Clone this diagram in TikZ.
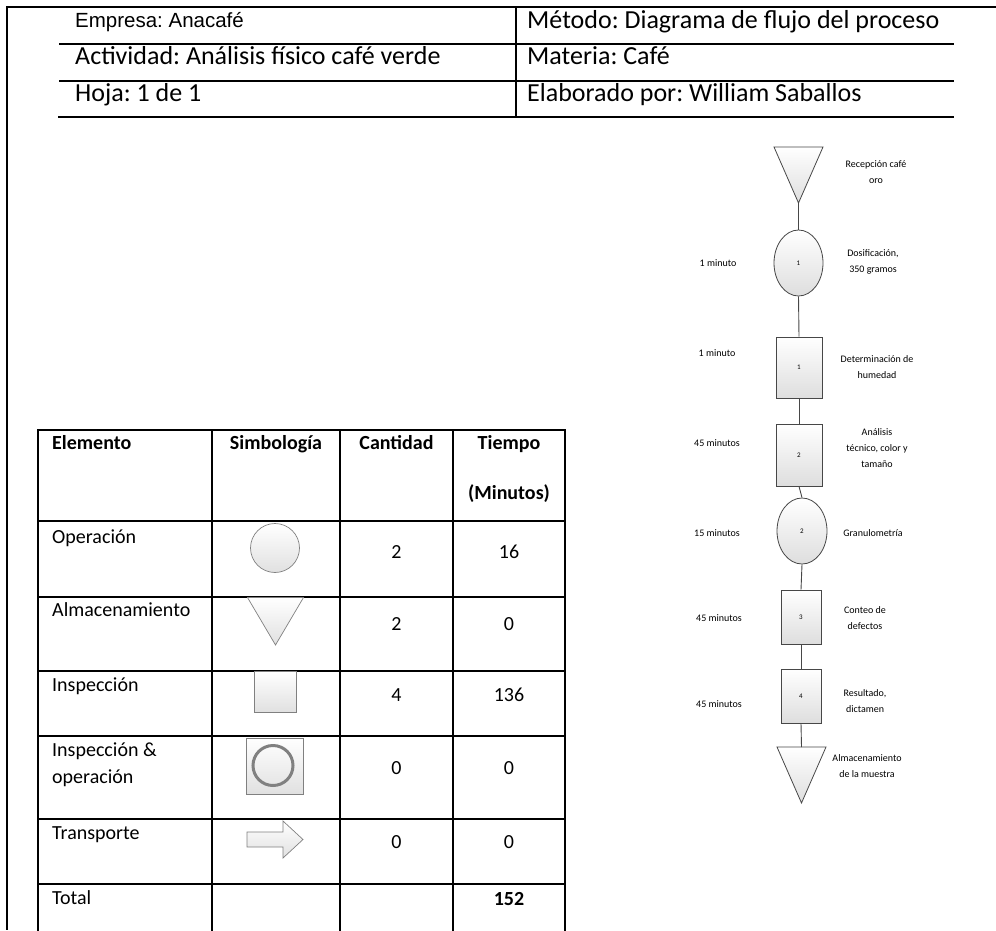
\documentclass[tikz,border=0pt]{standalone}
\usepackage{fontspec}
\setmainfont{Carlito}
\newfontfamily\arialfont{Liberation Sans}
\usetikzlibrary{shapes.geometric}
\frenchspacing

\tikzset{
  frameline/.style={line width=2pt, black},
  gridline/.style={line width=2pt, black, line cap=rect},
  hdrtxt/.style={anchor=base west, inner sep=0pt, font=\fontsize{26}{31}\selectfont},
  tbltxt/.style={anchor=base west, inner sep=0pt, font=\fontsize{20}{27}\selectfont},
  tblnum/.style={anchor=base, inner sep=0pt, font=\fontsize{20}{27}\selectfont},
  tblhead/.style={anchor=base, inner sep=0pt, font=\fontsize{20}{27}\selectfont\bfseries},
  flowshape/.style={draw=black!72, line width=0.8pt, top color=white, bottom color=black!13, inner sep=0pt},
  symshape/.style={draw=black!50, line width=0.7pt, top color=white, bottom color=black!12},
  flownum/.style={font=\fontsize{7}{8}\selectfont},
  flowlbl/.style={inner sep=0pt, align=center, font=\fontsize{10}{16}\selectfont},
  link/.style={draw=black!72, line width=0.9pt}
}

\begin{document}
\begin{tikzpicture}[x=1pt, y=-1pt]
\useasboundingbox (0,0) rectangle (996,930);

% outer frame (top and left edges)
\draw[frameline] (996,7) -- (7,7) -- (7,930);

% heading block
\draw[gridline] (60,44) -- (953,44);
\draw[gridline] (60,81) -- (953,81);
\draw[gridline] (59,117) -- (953,117);
\draw[gridline] (516,7) -- (516,117);

\node[hdrtxt, font=\arialfont\fontsize{20.5}{24}\selectfont] (hEmp) at (75,27) {Empresa: Anacafé};
\node[hdrtxt] (hMet) at (527,28) {Método: Diagrama de flujo del proceso};
\node[hdrtxt] (hAct) at (75,64) {Actividad: Análisis físico café verde};
\node[hdrtxt] (hMat) at (527,64) {Materia: Café};
\node[hdrtxt] (hHoj) at (75,101) {Hoja: 1 de 1};
\node[hdrtxt] (hEla) at (527,101) {Elaborado por: William Saballos};

% summary table grid
\foreach \yy in {430,521,597,671,736,819,884}
  \draw[gridline] (38,\yy) -- (565,\yy);
\foreach \xx in {38,212,340,453,565}
  \draw[gridline] (\xx,430) -- (\xx,930);

% table header
\node[tbltxt, font=\fontsize{20}{27}\selectfont\bfseries] (tEl) at (52,449) {Elemento};
\node[tblhead] (tSi) at (276,449) {Simbología};
\node[tblhead] (tCa) at (396.5,449) {Cantidad};
\node[tblhead] (tTi) at (509,449) {Tiempo};
\node[tblhead] (tMi) at (509,499) {(Minutos)};

% table rows
\node[tbltxt] (rOp) at (52,543) {Operación};
\node[tblnum] (nOp) at (396.5,558) {2};
\node[tblnum] (mOp) at (509,558) {16};

\node[tbltxt] (rAl) at (52,616) {Almacenamiento};
\node[tblnum] (nAl) at (396.5,630) {2};
\node[tblnum] (mAl) at (509,630) {0};

\node[tbltxt] (rIn) at (52,691) {Inspección};
\node[tblnum] (nIn) at (396.5,701) {4};
\node[tblnum] (mIn) at (509,701) {136};

\node[tbltxt] (rIo1) at (52,756) {Inspección \&};
\node[tbltxt] (rIo2) at (52,783) {operación};
\node[tblnum] (nIo) at (396.5,774) {0};
\node[tblnum] (mIo) at (509,774) {0};

\node[tbltxt] (rTr) at (52,839) {Transporte};
\node[tblnum] (nTr) at (396.5,848) {0};
\node[tblnum] (mTr) at (509,848) {0};

\node[tbltxt] (rTo) at (52,904) {Total};
\node[tblhead] (mTo) at (509,905) {152};

% symbols column
\path[symshape] (275,548) circle (24.5);
\path[symshape] (247.5,597.5) -- (303.5,597.5) -- (275.5,645) -- cycle;
\path[symshape] (254.5,671.5) rectangle (296,712);
\path[symshape] (246.5,738) rectangle (303.5,794);
\draw[draw=black!50, line width=3pt] (273,765.5) circle (20);
\path[symshape] (247,832) -- (283,832) -- (283,821) -- (303,839.5)
  -- (283,858) -- (283,847) -- (247,847) -- cycle;

% process flow
\path[flowshape] (774,147) -- (823,147) -- (798.5,203) -- cycle;
\coordinate (s0) at (798.5,203);
\node[flowshape, ellipse, minimum width=49, minimum height=66, flownum] (op1) at (798.5,263) {1};
\node[flowshape, rectangle, minimum width=46, minimum height=61, flownum] (in1) at (799,367.5) {1};
\node[flowshape, rectangle, minimum width=46, minimum height=62, flownum] (in2) at (799,455) {2};
\node[flowshape, ellipse, minimum width=50, minimum height=66, flownum] (op2) at (802,531) {2};
\node[flowshape, rectangle, minimum width=40, minimum height=54, flownum] (in3) at (801,617) {3};
\node[flowshape, rectangle, minimum width=40, minimum height=54, flownum] (in4) at (801,696) {4};
\path[flowshape] (777,747) -- (826,747) -- (801.5,803) -- cycle;
\coordinate (s1) at (801.5,747);

\draw[link] (s0) -- (op1.north);
\draw[link] (op1.south) -- (in1.north);
\draw[link] (in1.south) -- (in2.north);
\draw[link] (in2.south) -- (op2.north);
\draw[link] (op2.south) -- (in3.north);
\draw[link] (in3.south) -- (in4.north);
\draw[link] (in4.south) -- (s1);

% step descriptions and times
\node[flowlbl] (d0) at (876,172) {Recepción café\\oro};
\node[flowlbl] (t1) at (718,263) {1 minuto};
\node[flowlbl] (d1) at (873,262) {Dosificación,\\350 gramos};
\node[flowlbl] (t2) at (717,353) {1 minuto};
\node[flowlbl] (d2) at (877,367) {Determinación de\\humedad};
\node[flowlbl] (t3) at (717,443) {45 minutos};
\node[flowlbl] (d3) at (877,448) {Análisis\\técnico, color y\\tamaño};
\node[flowlbl] (t4) at (717,533) {15 minutos};
\node[flowlbl] (d4) at (873,533) {Granulometría};
\node[flowlbl] (t5) at (719,618) {45 minutos};
\node[flowlbl] (d5) at (865,618) {Conteo de\\defectos};
\node[flowlbl] (t6) at (719,704) {45 minutos};
\node[flowlbl] (d6) at (865,701) {Resultado,\\dictamen};
\node[flowlbl] (d7) at (867,766) {Almacenamiento\\de la muestra};
\end{tikzpicture}
\end{document}
